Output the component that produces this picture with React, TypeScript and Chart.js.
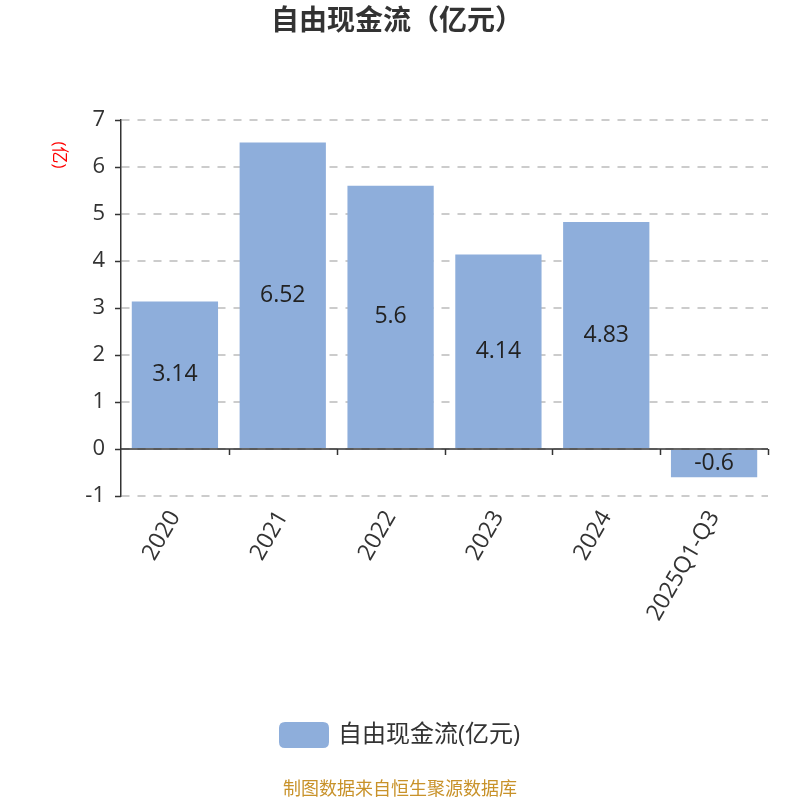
import React, { useEffect, useRef } from "react";
import { Chart, registerables } from "chart.js";

Chart.register(...registerables);

const categories = ["2020", "2021", "2022", "2023", "2024", "2025Q1-Q3"];
const values = [3.14, 6.52, 5.6, 4.14, 4.83, -0.6];
const valueLabels = ["3.14", "6.52", "5.6", "4.14", "4.83", "-0.6"];
const seriesName = "自由现金流(亿元)";
const titleText = "自由现金流（亿元）";
const unitText = "(亿)";
const footerText = "制图数据来自恒生聚源数据库";
const yMin = -1;
const yMax = 7;

const FONT = '"Open Sans", "Noto Sans CJK SC", sans-serif';
const BAR_COLOR = "#8eaedb";

const decorPlugin = {
  id: "decor",
  afterDatasetsDraw(chart: any) {
    const ctx = chart.ctx as CanvasRenderingContext2D;
    const area = chart.chartArea;
    const x = chart.scales.x;
    const y = chart.scales.y;
    ctx.save();
    const y0 = y.getPixelForValue(0);
    ctx.strokeStyle = "#333";
    ctx.lineWidth = 1.5;
    ctx.beginPath();
    ctx.moveTo(area.left, y0);
    ctx.lineTo(area.right, y0);
    ctx.stroke();
    const n = categories.length;
    for (let i = 1; i <= n; i++) {
      const px = Math.round(x.getPixelForValue(i - 0.5)) + 0.5;
      ctx.beginPath();
      ctx.moveTo(px, y0);
      ctx.lineTo(px, y0 + 6);
      ctx.stroke();
    }
    for (let v = yMin; v <= yMax; v++) {
      const py = Math.round(y.getPixelForValue(v)) + 0.5;
      ctx.beginPath();
      ctx.moveTo(area.left - 6, py);
      ctx.lineTo(area.left, py);
      ctx.stroke();
    }
    const meta = chart.getDatasetMeta(0);
    ctx.fillStyle = "#222";
    ctx.font = `23px ${FONT}`;
    ctx.textAlign = "center";
    ctx.textBaseline = "middle";
    meta.data.forEach((bar: any, i: number) => {
      const p = bar.getProps(["x", "y", "base"], true);
      ctx.fillText(valueLabels[i], p.x, (p.y + p.base) / 2);
    });
    ctx.restore();
  },
  afterDraw(chart: any) {
    const ctx = chart.ctx as CanvasRenderingContext2D;
    const W = chart.width;
    ctx.save();
    ctx.fillStyle = "#333";
    ctx.font = `bold 28px ${FONT}`;
    ctx.textAlign = "center";
    ctx.textBaseline = "middle";
    ctx.fillText(titleText, W / 2 - 3, 22);
    ctx.save();
    ctx.translate(59, 155);
    ctx.rotate(Math.PI / 2);
    ctx.fillStyle = "#ff0000";
    ctx.font = `17px ${FONT}`;
    ctx.textAlign = "center";
    ctx.textBaseline = "middle";
    ctx.fillText(unitText, 0, 0);
    ctx.restore();
    const bx = 279, by = 722, bw = 50, bh = 26, r = 6;
    ctx.fillStyle = BAR_COLOR;
    ctx.beginPath();
    ctx.moveTo(bx + r, by);
    ctx.lineTo(bx + bw - r, by);
    ctx.quadraticCurveTo(bx + bw, by, bx + bw, by + r);
    ctx.lineTo(bx + bw, by + bh - r);
    ctx.quadraticCurveTo(bx + bw, by + bh, bx + bw - r, by + bh);
    ctx.lineTo(bx + r, by + bh);
    ctx.quadraticCurveTo(bx, by + bh, bx, by + bh - r);
    ctx.lineTo(bx, by + r);
    ctx.quadraticCurveTo(bx, by, bx + r, by);
    ctx.closePath();
    ctx.fill();
    ctx.fillStyle = "#333";
    ctx.font = `24px ${FONT}`;
    ctx.textAlign = "left";
    ctx.fillText(seriesName, 338, 735);
    ctx.fillStyle = "#c8922a";
    ctx.font = `18px ${FONT}`;
    ctx.textAlign = "center";
    ctx.fillText(footerText, W / 2, 790);
    ctx.restore();
  },
};

export default function App() {
  const ref = useRef<HTMLCanvasElement | null>(null);
  useEffect(() => {
    if (!ref.current) return;
    const chart = new Chart(ref.current, {
      type: "bar",
      data: {
        labels: categories,
        datasets: [
          {
            label: seriesName,
            data: values,
            backgroundColor: BAR_COLOR,
            barPercentage: 0.8,
            categoryPercentage: 1,
          },
        ],
      },
      options: {
        animation: false,
        responsive: false,
        maintainAspectRatio: false,
        layout: { padding: { left: 0, right: 32, top: 120, bottom: 0 } },
        plugins: {
          legend: { display: false },
          title: { display: false },
          tooltip: { enabled: false },
        },
        scales: {
          x: {
            grid: { display: false, drawTicks: false },
            border: { display: false },
            ticks: {
              color: "#333",
              font: { family: FONT, size: 23 },
              minRotation: 60,
              maxRotation: 60,
              padding: 10,
              autoSkip: false,
            },
            afterFit(scale: any) {
              scale.height = 304;
            },
          },
          y: {
            min: yMin,
            max: yMax,
            grid: {
              color: "#cccccc",
              lineWidth: 2,
              drawTicks: false,
              tickLength: 0,
            },
            border: { display: true, color: "#333", width: 1.5, dash: [8, 8] },
            ticks: {
              stepSize: 1,
              color: "#333",
              font: { family: FONT, size: 22 },
              padding: 16,
            },
            afterFit(scale: any) {
              scale.width = 121;
            },
          },
        },
      },
      plugins: [decorPlugin],
    });
    return () => chart.destroy();
  }, []);
  return (
    <div style={{ position: "fixed", left: 0, top: 0, width: 800, height: 800, background: "#fff" }}>
      <canvas ref={ref} width={800} height={800} style={{ width: 800, height: 800 }} />
    </div>
  );
}
